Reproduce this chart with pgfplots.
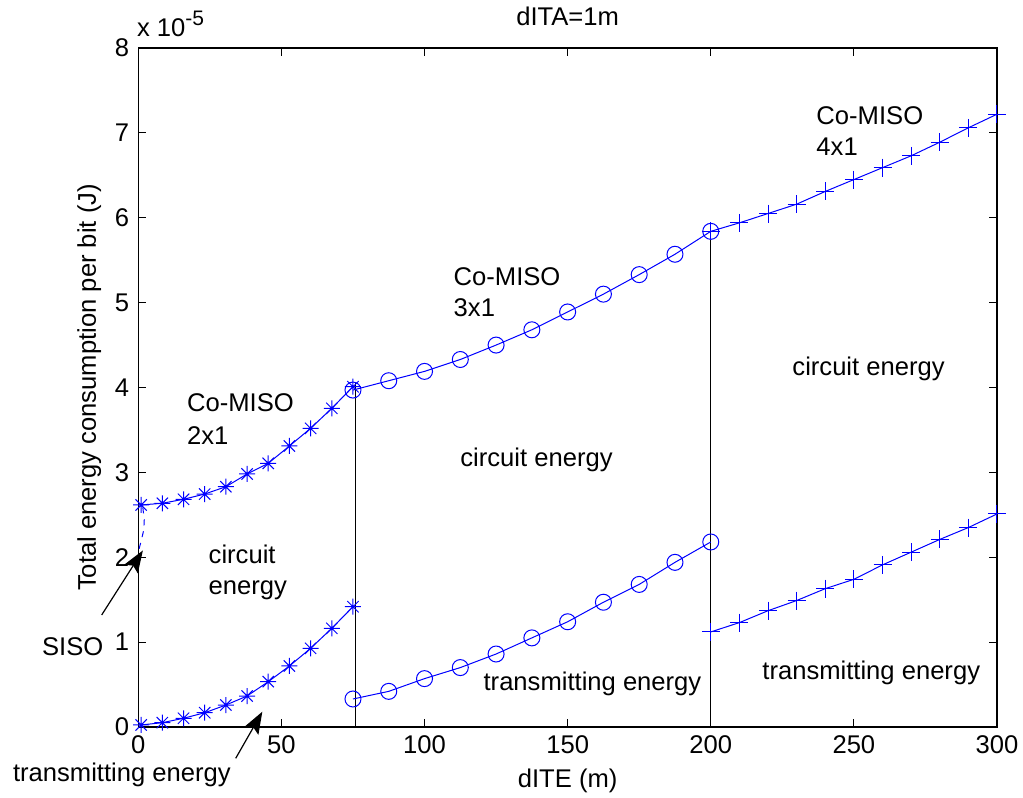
\documentclass[border=0pt]{standalone}
\usepackage{fontspec}
\setmainfont{Liberation Sans}
\usepackage{pgfplots}
\pgfplotsset{compat=1.18}
\usetikzlibrary{arrows.meta}
\definecolor{mblue}{RGB}{0,0,255}
\pgfdeclareplotmark{mstar}{%
  \pgfpathmoveto{\pgfqpoint{-\pgfplotmarksize}{0pt}}\pgfpathlineto{\pgfqpoint{\pgfplotmarksize}{0pt}}%
  \pgfpathmoveto{\pgfqpoint{0pt}{-\pgfplotmarksize}}\pgfpathlineto{\pgfqpoint{0pt}{\pgfplotmarksize}}%
  \pgfpathmoveto{\pgfqpoint{-0.7071\pgfplotmarksize}{-0.7071\pgfplotmarksize}}\pgfpathlineto{\pgfqpoint{0.7071\pgfplotmarksize}{0.7071\pgfplotmarksize}}%
  \pgfpathmoveto{\pgfqpoint{-0.7071\pgfplotmarksize}{0.7071\pgfplotmarksize}}\pgfpathlineto{\pgfqpoint{0.7071\pgfplotmarksize}{-0.7071\pgfplotmarksize}}%
  \pgfusepathqstroke}
\begin{document}
\begin{tikzpicture}
\path[use as bounding box] (-69.15pt,-35.5pt) rectangle (442.35pt,363.5pt);
\begin{axis}[
  at={(0,0)}, anchor=south west,
  scale only axis, width=429.35pt, height=339.5pt,
  xmin=0, xmax=300, ymin=0, ymax=8,
  xtick={0,50,...,300}, ytick={0,1,...,8},
  clip=false,
  font=\fontsize{12.8}{15}\selectfont,
  /pgf/number format/assume math mode=true,
  tick align=inside, major tick length=4pt,
  tick style={black, line width=0.5pt},
  axis line style={line width=0.6pt},
  xticklabel style={yshift=-1pt},
  yticklabel style={xshift=-1pt},
  xlabel={dITE (m)},
  xlabel style={at={(axis description cs:0.5,-0.0884)}, anchor=base},
  ylabel={Total energy consumption per bit (J)},
  ylabel style={at={(axis description cs:-0.057,0.5)}, anchor=center, rotate=0},
  title={dITA=1m},
  title style={at={(axis description cs:0.5,1.016)}, anchor=base},
]
% vertical separators
\addplot[black, line width=0.5pt] coordinates {(76,0) (76,4.05)};
\addplot[black, line width=0.5pt] coordinates {(200,0) (200,5.9)};
% SISO dashed
\addplot[mblue, dashed, line width=0.5pt] coordinates {(0.3,2.10) (1.2,2.22) (1.9,2.32) (2.1,2.45) (1.7,2.55) (1.5,2.62)};
% Co-MISO 2x1
\addplot[mblue, line width=0.5pt, mark=mstar, mark size=4pt] coordinates {
(1,2.616) (8.4,2.636) (15.8,2.683) (23.2,2.745) (30.6,2.831) (38,2.981) (45.4,3.107) (52.8,3.311) (60.2,3.519) (67.6,3.755) (75,4.009)};
\addplot[mblue, line width=0.5pt, mark=mstar, mark size=4pt] coordinates {
(1,0.024) (8.4,0.051) (15.8,0.103) (23.2,0.168) (30.6,0.259) (38,0.365) (45.4,0.534) (52.8,0.719) (60.2,0.927) (67.6,1.163) (75,1.417)};
% Co-MISO 3x1
\addplot[mblue, line width=0.5pt, mark=o, mark size=4pt] coordinates {
(75,3.97) (87.5,4.08) (100,4.19) (112.5,4.33) (125,4.50) (137.5,4.68) (150,4.89) (162.5,5.10) (175,5.33) (187.5,5.57) (200,5.84)};
\addplot[mblue, line width=0.5pt, mark=o, mark size=4pt] coordinates {
(75,0.33) (87.5,0.42) (100,0.57) (112.5,0.70) (125,0.86) (137.5,1.05) (150,1.24) (162.5,1.47) (175,1.68) (187.5,1.94) (200,2.18)};
% Co-MISO 4x1
\addplot[mblue, line width=0.5pt, mark=+, mark size=4.5pt] coordinates {
(200,5.84) (210,5.94) (220,6.05) (230,6.16) (240,6.31) (250,6.45) (260,6.59) (270,6.73) (280,6.89) (290,7.06) (300,7.22)};
\addplot[mblue, line width=0.5pt, mark=+, mark size=4.5pt] coordinates {
(200,1.12) (210,1.23) (220,1.37) (230,1.49) (240,1.63) (250,1.74) (260,1.91) (270,2.06) (280,2.21) (290,2.35) (300,2.51)};
% annotations
\node[anchor=base west, inner sep=0pt] at (axis cs:-0.56,8.141) {x 10\raisebox{5.5pt}{\fontsize{10.5}{12}\selectfont -5}};
\node[anchor=base west, inner sep=0pt] at (axis cs:16.9,3.715) {Co-MISO};
\node[anchor=base west, inner sep=0pt] at (axis cs:16.9,3.334) {2x1};
\node[anchor=base west, inner sep=0pt] at (axis cs:24.46,1.93) {circuit};
\node[anchor=base west, inner sep=0pt] at (axis cs:24.46,1.56) {energy};
\node[anchor=base west, inner sep=0pt] at (axis cs:110.06,5.196) {Co-MISO};
\node[anchor=base west, inner sep=0pt] at (axis cs:110.06,4.834) {3x1};
\node[anchor=base west, inner sep=0pt] at (axis cs:236.8,7.101) {Co-MISO};
\node[anchor=base west, inner sep=0pt] at (axis cs:236.8,6.739) {4x1};
\node[anchor=base west, inner sep=0pt] at (axis cs:112.4,3.067) {circuit energy};
\node[anchor=base west, inner sep=0pt] at (axis cs:228.4,4.147) {circuit energy};
\node[anchor=base west, inner sep=0pt] at (axis cs:120.5,0.428) {transmitting energy};
\node[anchor=base west, inner sep=0pt] at (axis cs:217.9,0.554) {transmitting energy};
\node[anchor=base west, inner sep=0pt] at (axis cs:-33.75,0.84) {SISO};
\node[anchor=base west, inner sep=0pt] at (axis cs:-43.9,-0.644) {transmitting energy};
\draw[-{Stealth[length=11pt,width=8pt,inset=2pt]}, line width=0.6pt] (axis cs:-12.79,1.32) -- (axis cs:1.6,2.08);
\draw[-{Stealth[length=11pt,width=8pt,inset=2pt]}, line width=0.6pt] (axis cs:34.03,-0.369) -- (axis cs:43.33,0.18);
\end{axis}
\end{tikzpicture}
\end{document}
